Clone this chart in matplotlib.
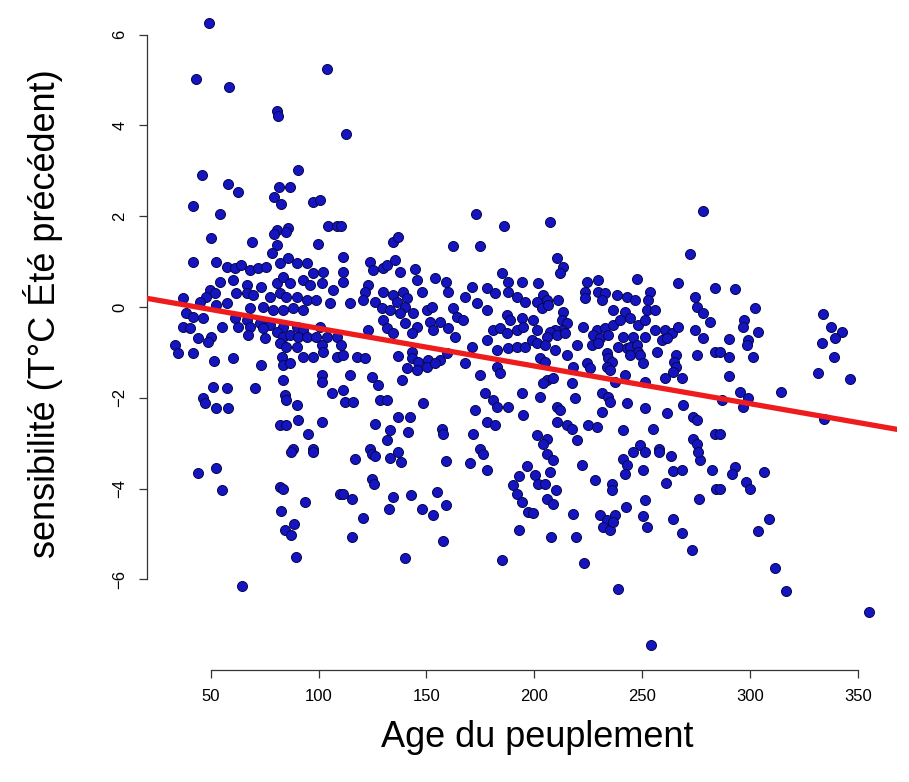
import matplotlib
matplotlib.use("Agg")
import matplotlib.pyplot as plt
import numpy as np

plt.rcParams['font.family'] = ['Liberation Sans', 'DejaVu Sans']

# Age du peuplement (années) et sensibilité
age = [
    # points hauts
    49.2, 103.7, 43.0, 58.4, 80.5, 81.2, 90.5, 46.1, 58.2, 62.5, 81.7, 86.7, 79.2, 82.5,
    41.8, 97.5, 100.6, 54.2, 80.5, 85.6, 104.4, 108.3, 112.6, 172.8, 186.0, 110.6, 207.3, 278.1,
    # age < 110
    50.3, 69.3, 79.4, 80.5, 78.2, 85.1, 99.8, 41.8, 52.3, 57.3, 61.1, 64.2, 68.1, 71.9, 75.8,
    82.0, 85.9, 89.8, 94.4, 97.5, 102.1, 54.2, 60.3, 66.6, 73.5, 80.5, 83.5, 86.7, 92.8, 95.9,
    101.4, 106.7, 49.5, 51.9, 48.0, 61.9, 66.6, 69.6, 77.4, 82.0, 85.1, 89.8, 94.4, 99.0, 105.2,
    37.1, 44.9, 52.6, 57.3, 68.1, 74.3, 78.9, 83.5, 88.2, 92.8, 38.7, 41.8, 46.4, 61.1, 66.6,
    72.7, 77.4, 83.5, 37.1, 40.3, 55.0, 62.7, 68.1, 74.3, 89.8, 92.8, 100.6, 80.5, 83.5, 86.7,
    90.5, 94.4, 99.0, 103.7, 108.3, 44.1, 50.3, 48.7, 67.3, 75.1, 33.3, 34.8, 41.8, 82.0, 85.1,
    89.8, 101.4, 102.1, 92.8, 97.5, 51.5, 60.3, 73.5, 82.8, 83.5, 86.7, 101.4, 101.4, 83.5, 106.0,
    51.1, 57.3, 70.4, 46.4, 47.2, 52.6, 58.0, 84.3, 85.1, 89.8, 82.0, 85.1, 90.5, 101.4, 95.1,
    88.2, 97.5, 108.3,
    87.4, 97.5, 44.1, 52.6, 55.4, 82.0, 83.5, 93.6, 82.5, 88.5, 84.3, 87.4, 89.4, 64.5, 109.9,
    # 110 - 200
    134.6, 136.9, 162.1, 174.8, 111.4, 123.8, 125.3, 129.9, 131.5, 135.4, 137.7, 144.7, 145.4,
    111.4, 111.1, 153.9, 159.0, 184.9, 187.9, 194.2, 123.0, 121.5, 120.7, 126.1, 129.2, 129.9,
    134.6, 139.2, 140.8, 136.2, 140.0, 147.8, 160.1, 171.0, 167.9, 173.3, 177.9, 181.8, 187.9,
    191.8, 195.7, 114.5, 133.1, 137.7, 143.9, 150.1, 152.4, 162.4, 164.0, 167.1, 177.9, 187.2,
    194.2, 188.7, 129.9, 131.5, 140.0, 145.4, 151.6, 156.3, 160.1, 134.6, 143.1, 153.1, 181.0,
    184.1, 187.2, 191.8, 194.9, 123.0, 163.2, 177.9, 110.6, 111.4, 117.6, 121.5, 136.9, 143.1,
    143.1, 146.2, 150.8, 156.3, 159.4, 171.0, 182.6, 187.9, 191.8, 195.7, 167.9, 182.6, 184.1,
    140.8, 145.4, 150.1, 153.9, 114.5, 124.6, 138.5, 127.6, 174.8, 111.4, 112.2, 116.0, 128.4,
    131.5, 148.5, 177.1, 181.0, 182.6, 187.9, 194.2, 194.9, 172.5, 136.9, 142.3, 126.1, 133.1,
    141.5, 157.0, 157.8, 177.9, 181.8, 171.7, 131.5, 123.8, 174.8,
    116.8, 124.6, 126.1, 133.1, 136.9, 138.0, 159.0, 170.2, 176.1, 177.9, 196.5, 193.0, 190.0,
    191.8, 194.2, 124.6, 125.6, 111.4, 115.7, 134.6, 142.8, 154.7, 158.9, 132.6, 147.8, 152.9,
    120.4, 115.7, 157.8, 140.0, 184.9, 192.9, 197.1,
    # 200 - 285
    210.4, 213.5, 211.9, 272.3, 247.8, 266.8, 201.9, 224.3, 229.7, 223.5, 229.7, 232.8, 283.9,
    204.2, 201.1, 205.8, 211.2, 203.4, 206.5, 223.5, 231.3, 238.2, 242.9, 246.7, 253.7, 252.9,
    274.6, 275.4, 278.4, 281.5, 213.5, 236.7, 242.1, 244.4, 252.2, 256.0, 199.6, 212.7, 215.0,
    212.7, 209.6, 222.7, 229.0, 232.8, 236.7, 239.8, 248.3, 251.4, 256.0, 260.7, 263.8, 266.8,
    201.1, 207.3, 205.8, 210.4, 214.3, 227.4, 230.5, 234.3, 241.3, 246.0, 251.4, 278.4, 274.6,
    259.1, 261.4, 198.8, 201.1, 205.0, 219.7, 226.6, 229.7, 239.0, 242.9, 244.4, 247.5, 248.3,
    256.8, 209.6, 215.0, 233.6, 234.3, 235.9, 244.4, 249.1, 250.6, 275.4, 283.9, 265.6, 264.8,
    265.6, 264.1, 202.7, 205.0, 218.1, 224.3, 225.9, 233.6, 235.1, 242.1, 237.5, 251.4, 260.7,
    268.4, 205.8, 204.2, 208.8, 217.4, 202.7, 218.9, 231.3, 234.3, 235.1, 242.9, 210.4, 211.9,
    231.3, 251.4, 261.4, 269.1, 273.8, 275.4, 210.4, 215.0, 217.4, 225.1, 229.0, 241.3, 255.2,
    283.9, 201.1, 205.8, 204.2, 219.7, 273.8, 275.4, 249.1, 257.6,
    205.8, 208.8, 207.3, 200.3, 201.9, 205.0, 222.0, 241.3, 242.9, 242.1, 246.0, 251.4, 257.6,
    250.3, 263.3, 264.5, 268.4, 276.9, 282.3, 276.1, 228.2, 235.9, 235.9, 210.1, 261.1, 284.3,
    205.8, 208.8, 251.4, 276.4, 199.3, 217.8, 230.5, 233.6, 232.0, 235.1, 237.5, 236.7, 242.3,
    250.3, 252.2, 264.2, 268.4, 207.8, 219.2, 273.3, 223.2, 239.0, 254.2,
    # > 285
    293.1, 302.4, 333.8, 297.3, 296.7, 303.5, 337.5, 342.6, 339.5, 290.5, 299.3, 298.6, 333.4,
    286.2, 290.5, 301.3, 338.8, 290.5, 331.5, 346.2, 295.5, 299.3, 297.0, 314.3, 287.0, 334.1,
    286.2, 293.1, 291.6, 306.3, 298.3, 299.8, 286.2, 308.6, 303.5, 311.7, 316.7, 355.3,
]

sensibilite = [
    6.26, 5.25, 5.02, 4.85, 4.31, 4.21, 3.01, 2.90, 2.71, 2.54, 2.64, 2.65, 2.42, 2.26,
    2.23, 2.32, 2.36, 2.06, 1.70, 1.74, 1.79, 1.79, 3.82, 2.06, 1.79, 1.79, 1.88, 2.12,
    1.52, 1.43, 1.61, 1.37, 1.18, 1.66, 1.39, 1.00, 1.00, 0.89, 0.85, 0.93, 0.82, 0.85, 0.89,
    0.96, 1.07, 0.96, 0.96, 0.74, 0.78, 0.56, 0.60, 0.49, 0.45, 0.52, 0.67, 0.52, 0.60, 0.49,
    0.52, 0.38, 0.38, 0.30, 0.23, 0.30, 0.30, 0.26, 0.23, 0.30, 0.23, 0.23, 0.15, 0.15, 0.08,
    0.19, 0.12, 0.04, 0.08, -0.03, 0.01, -0.07, -0.07, -0.03, -0.07, -0.14, -0.21, -0.25, -0.25, -0.29,
    -0.36, -0.40, -0.43, -0.43, -0.47, -0.43, -0.43, -0.43, -0.47, -0.43, -0.51, -0.43, -0.54, -0.66, -0.62,
    -0.66, -0.66, -0.66, -0.66, -0.66, -0.69, -0.66, -0.77, -0.62, -0.69, -0.84, -1.02, -1.02, -0.80, -0.88,
    -0.88, -0.84, -0.99, -1.10, -1.10, -1.18, -1.13, -1.28, -1.10, -1.28, -1.24, -1.50, -1.65, -1.61, -1.90,
    -1.76, -1.79, -1.79, -2.01, -2.12, -2.23, -2.23, -1.94, -2.05, -2.16, -2.60, -2.60, -2.49, -2.53, -2.79,
    -3.12, -3.12, -1.10,
    -3.19, -3.19, -3.66, -3.54, -4.04, -3.96, -4.01, -4.30, -4.50, -4.79, -4.92, -5.03, -5.51, -6.15, -4.11,
    1.44, 1.55, 1.35, 1.35, 1.11, 1.00, 0.82, 0.85, 0.93, 1.04, 0.78, 0.83, 0.60,
    0.78, 0.56, 0.63, 0.56, 0.74, 0.56, 0.56, 0.49, 0.34, 0.15, 0.12, -0.03, 0.34,
    0.26, 0.34, 0.19, 0.12, 0.01, 0.34, 0.34, 0.45, 0.23, 0.08, 0.41, 0.30, 0.34,
    0.23, 0.12, 0.08, -0.07, -0.14, -0.14, -0.07, 0.01, -0.03, -0.21, -0.29, -0.07, -0.18,
    -0.25, -0.29, -0.29, -0.47, -0.36, -0.43, -0.32, -0.32, -0.47, -0.58, -0.58, -0.51, -0.51,
    -0.47, -0.58, -0.51, -0.43, -0.51, -0.66, -0.73, -0.84, -1.06, -1.10, -1.13, -1.08, -0.99,
    -1.13, -1.21, -1.17, -1.17, -1.02, -0.88, -0.95, -0.91, -0.88, -0.88, -1.24, -1.32, -1.46,
    -1.35, -1.39, -1.32, -1.24, -1.50, -1.54, -1.61, -1.72, -1.50, -1.83, -2.09, -2.09, -2.05,
    -2.05, -2.12, -1.90, -2.05, -2.20, -2.20, -1.90, -2.38, -2.27, -2.42, -2.42, -2.57, -2.71,
    -2.75, -2.68, -2.79, -2.53, -2.60, -2.79, -2.93, -3.12, -3.12,
    -3.36, -3.23, -3.29, -3.32, -3.19, -3.41, -3.39, -3.43, -3.24, -3.60, -3.50, -3.73, -3.93,
    -4.11, -4.30, -3.78, -3.89, -4.11, -4.24, -4.18, -4.15, -4.07, -4.37, -4.46, -4.46, -4.59,
    -4.65, -5.07, -5.16, -5.53, -5.57, -4.92, -4.52,
    1.07, 0.89, 0.74, 1.17, 0.62, 0.52, 0.52, 0.56, 0.60, 0.34, 0.34, 0.30, 0.41,
    0.26, 0.12, 0.15, 0.15, -0.03, 0.04, 0.19, 0.15, 0.26, 0.23, 0.15, 0.34, 0.15,
    0.23, 0.01, -0.14, -0.32, -0.10, -0.07, -0.10, -0.25, -0.07, -0.07, -0.29, -0.29, -0.36,
    -0.51, -0.51, -0.43, -0.51, -0.47, -0.40, -0.29, -0.40, -0.29, -0.51, -0.51, -0.58, -0.43,
    -0.51, -0.54, -0.66, -0.62, -0.58, -0.62, -0.69, -0.62, -0.66, -0.66, -0.66, -0.69, -0.51,
    -0.73, -0.69, -0.73, -0.80, -0.84, -0.84, -0.84, -0.80, -0.88, -0.91, -0.88, -0.84, -0.99,
    -0.99, -0.95, -1.06, -1.02, -1.13, -1.21, -1.06, -1.06, -1.24, -1.06, -0.99, -1.06, -1.21,
    -1.32, -1.43, -1.13, -1.21, -1.32, -1.24, -1.35, -1.32, -1.39, -1.50, -1.65, -1.65, -1.57,
    -1.57, -1.61, -1.68, -1.57, -1.68, -1.98, -2.01, -1.90, -1.98, -2.09, -2.12, -2.20, -2.27,
    -2.31, -2.23, -2.34, -2.16, -2.42, -2.49, -2.53, -2.60, -2.68, -2.60, -2.64, -2.71, -2.68,
    -2.79, -2.82, -2.90, -3.01, -2.93, -2.90, -3.01, -3.04, -3.12,
    -3.23, -3.38, -3.63, -3.71, -3.89, -3.89, -3.49, -3.34, -3.49, -3.67, -3.19, -3.19, -3.19,
    -3.60, -3.29, -3.61, -3.60, -3.38, -3.60, -3.19, -3.82, -3.89, -4.04, -4.04, -3.87, -4.00,
    -4.22, -4.33, -4.26, -4.22, -4.53, -4.57, -4.59, -4.70, -4.85, -4.92, -4.59, -4.74, -4.41,
    -4.60, -4.85, -4.68, -4.97, -5.07, -5.07, -5.36, -5.64, -6.21, -7.45,
    0.39, -0.03, -0.15, -0.29, -0.43, -0.54, -0.43, -0.54, -0.69, -0.71, -0.73, -0.84, -0.79,
    -0.99, -1.10, -1.11, -1.11, -1.52, -1.46, -1.59, -1.88, -2.01, -2.20, -1.88, -2.05, -2.46,
    -2.79, -3.52, -3.67, -3.63, -3.85, -4.02, -4.02, -4.68, -4.93, -5.75, -6.26, -6.72,
]

# droite de régression
intercept = 0.36
pente = -0.0083

x_ticks = [50, 100, 150, 200, 250, 300, 350]
y_ticks = [-6, -4, -2, 0, 2, 4, 6]

age = np.array(age)
sensibilite = np.array(sensibilite)

fig = plt.figure(figsize=(9.09, 7.82), dpi=100)
ax = fig.add_axes([147 / 909, 112 / 782, 750 / 909, 672 / 782])

ax.scatter(age, sensibilite, s=52, c='#1414c0', edgecolors='#08084a',
           linewidths=0.7, zorder=2)
ax.axline((0, intercept), slope=pente, color='#ee1c1c', lw=3.8, zorder=3)

# marges style R (4 %)
dx = (age.max() - age.min()) * 0.04
dy = (sensibilite.max() - sensibilite.min()) * 0.04
ax.set_xlim(age.min() - dx, age.max() + dx)
ax.set_ylim(sensibilite.min() - dy, sensibilite.max() + dy)

for s in ['top', 'right']:
    ax.spines[s].set_visible(False)
ax.spines['left'].set_bounds(-6, 6)
ax.spines['bottom'].set_bounds(50, 350)
for s in ['left', 'bottom']:
    ax.spines[s].set_linewidth(0.9)
    ax.spines[s].set_color('#333333')

ax.set_xticks(x_ticks)
ax.set_yticks(y_ticks)
ax.tick_params(axis='both', length=6, width=0.9, color='#333333',
               labelsize=12, pad=8)
ax.tick_params(axis='y', labelrotation=90)
for lab in ax.get_yticklabels():
    lab.set_verticalalignment('center')

ax.set_xlabel('Age du peuplement', fontsize=26)
ax.set_ylabel('sensibilité (T°C Été précédent)', fontsize=26)
ax.xaxis.set_label_coords(0.52, -0.075)
ax.yaxis.set_label_coords(-0.112, 0.53)

fig.savefig('out.png', dpi=100)
